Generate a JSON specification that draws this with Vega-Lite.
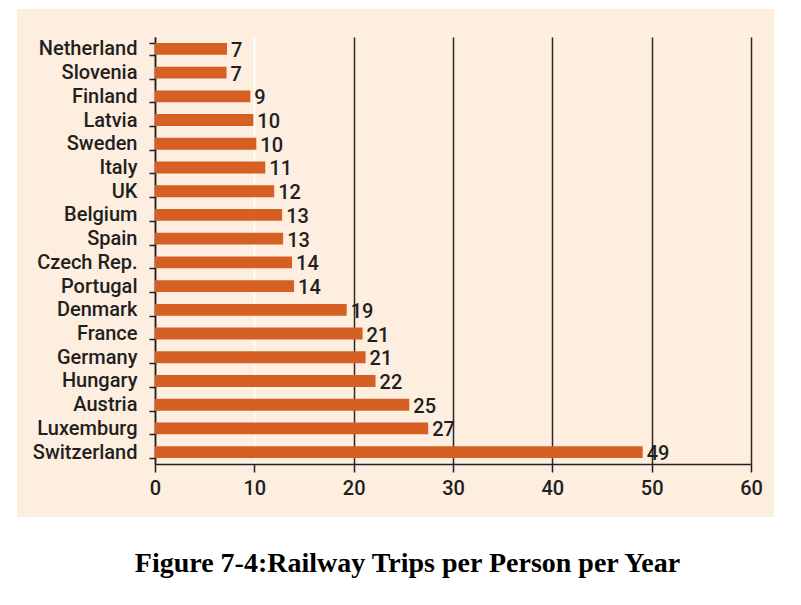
{
  "$schema": "https://vega.github.io/schema/vega-lite/v6.json",
  "autosize": {"type": "none"},
  "width": 757,
  "height": 508,
  "padding": {"left": 17, "top": 9, "right": 27, "bottom": 88},
  "background": "white",
  "title": {
    "text": "Figure 7-4:Railway Trips per Person per Year",
    "orient": "bottom",
    "anchor": "middle",
    "frame": "group",
    "font": "Liberation Serif",
    "fontSize": 28,
    "fontWeight": "bold",
    "color": "black",
    "baseline": "alphabetic",
    "offset": 55,
    "dx": 12
  },
  "data": {
    "values": [
      {"country": "Netherland", "trips": 7.25, "label": "7"},
      {"country": "Slovenia", "trips": 7.2, "label": "7"},
      {"country": "Finland", "trips": 9.6, "label": "9"},
      {"country": "Latvia", "trips": 9.9, "label": "10"},
      {"country": "Sweden", "trips": 10.2, "label": "10"},
      {"country": "Italy", "trips": 11.1, "label": "11"},
      {"country": "UK", "trips": 12.0, "label": "12"},
      {"country": "Belgium", "trips": 12.8, "label": "13"},
      {"country": "Spain", "trips": 12.9, "label": "13"},
      {"country": "Czech Rep.", "trips": 13.8, "label": "14"},
      {"country": "Portugal", "trips": 14.0, "label": "14"},
      {"country": "Denmark", "trips": 19.3, "label": "19"},
      {"country": "France", "trips": 20.9, "label": "21"},
      {"country": "Germany", "trips": 21.2, "label": "21"},
      {"country": "Hungary", "trips": 22.2, "label": "22"},
      {"country": "Austria", "trips": 25.6, "label": "25"},
      {"country": "Luxemburg", "trips": 27.5, "label": "27"},
      {"country": "Switzerland", "trips": 49.1, "label": "49"}
    ]
  },
  "encoding": {
    "y": {
      "field": "country",
      "type": "nominal",
      "sort": null,
      "scale": {"range": [28, 455], "paddingInner": 0.5, "paddingOuter": 0.25},
      "axis": {
        "title": null,
        "offset": -138,
        "tickBand": "extent",
        "tickSize": 6,
        "tickWidth": 1.5,
        "tickColor": "#231f20",
        "domainColor": "#231f20",
        "domainWidth": 1.5,
        "labelFont": "Roboto",
        "labelFontSize": 20,
        "labelFontWeight": 500,
        "labelColor": "#231f20",
        "labelPadding": 12,
        "grid": false
      }
    }
  },
  "layer": [
    {
      "mark": {"type": "bar", "color": "#D65F24"},
      "encoding": {
        "x": {
          "field": "trips",
          "type": "quantitative",
          "scale": {"domain": [0, 60], "range": [138, 734], "nice": false, "zero": true},
          "axis": {
            "orient": "top",
            "title": null,
            "values": [0, 10, 20, 30, 40, 50, 60],
            "labels": false,
            "ticks": false,
            "domain": false,
            "grid": true,
            "gridColor": {"condition": {"test": "datum.value === 10", "value": "white"}, "value": "#2b2b2b"},
            "gridWidth": 1.5,
            "gridOpacity": 1
          }
        }
      }
    },
    {
      "mark": {"type": "text", "align": "left", "baseline": "middle", "dx": 4, "dy": 2, "font": "Roboto", "fontSize": 20, "fontWeight": 500, "color": "#231f20"},
      "encoding": {
        "x": {
          "field": "trips",
          "type": "quantitative",
          "axis": {
            "orient": "bottom",
            "title": null,
            "offset": -53,
            "values": [0, 10, 20, 30, 40, 50, 60],
            "grid": false,
            "tickSize": 8,
            "tickWidth": 1.5,
            "tickColor": "#231f20",
            "domainColor": "#231f20",
            "domainWidth": 1.5,
            "labelFont": "Roboto",
            "labelFontSize": 20,
            "labelFontWeight": 500,
            "labelColor": "#231f20",
            "labelPadding": 6,
            "labelFlush": false
          }
        },
        "text": {"field": "label"}
      }
    }
  ],
  "resolve": {"axis": {"x": "independent"}},
  "config": {
    "view": {"fill": "#FDEEE0", "stroke": null}
  }
}
